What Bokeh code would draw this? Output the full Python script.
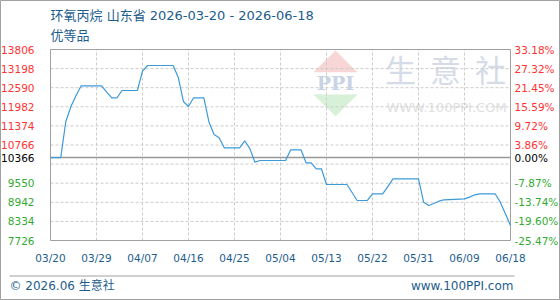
import pandas as pd
from bokeh.plotting import figure
from bokeh.models import ColumnDataSource, Range1d
from bokeh.core.properties import value
from bokeh.embed import file_html
from bokeh.resources import INLINE

# ---------------- data ----------------
title_text = "环氧丙烷 山东省 2026-03-20 - 2026-06-18"
subtitle_text = "优等品"
footer_left = "© 2026.06 生意社"
footer_right = "www.100PPI.com"

dates = ["2026-03-20", "2026-03-22", "2026-03-23", "2026-03-24", "2026-03-25", "2026-03-26",
         "2026-03-30", "2026-03-31", "2026-04-01", "2026-04-02", "2026-04-03", "2026-04-06",
         "2026-04-07", "2026-04-08", "2026-04-13", "2026-04-14", "2026-04-15", "2026-04-16",
         "2026-04-17", "2026-04-19", "2026-04-20", "2026-04-21", "2026-04-22", "2026-04-23",
         "2026-04-26", "2026-04-27", "2026-04-28", "2026-04-29", "2026-04-30", "2026-05-05",
         "2026-05-06", "2026-05-08", "2026-05-09", "2026-05-10", "2026-05-11", "2026-05-12",
         "2026-05-13", "2026-05-17", "2026-05-18", "2026-05-19", "2026-05-21", "2026-05-22",
         "2026-05-24", "2026-05-25", "2026-05-26", "2026-05-31", "2026-06-01", "2026-06-02",
         "2026-06-03", "2026-06-04", "2026-06-05", "2026-06-09", "2026-06-10", "2026-06-11",
         "2026-06-12", "2026-06-14", "2026-06-15", "2026-06-16", "2026-06-17", "2026-06-18"]
prices = [10366, 10366, 11514, 11990, 12342, 12650,
          12650, 12447, 12269, 12269, 12501, 12501,
          13115, 13297, 13297, 12915, 12151, 11992,
          12269, 12269, 11500, 11100, 10995, 10677,
          10677, 10900, 10650, 10219, 10273, 10273,
          10613, 10613, 10200, 10200, 10009, 10009,
          9509, 9509, 9254, 9000, 9000, 9213,
          9213, 9440, 9690, 9690, 8946, 8840,
          8904, 8977, 9022, 9050, 9108, 9181,
          9213, 9213, 9213, 8946, 8576, 8204]

base_price = 10366
x_start = "2026-03-20"
x_end = "2026-06-18"
x_ticks = ["2026-03-20", "2026-03-29", "2026-04-07", "2026-04-16", "2026-04-25", "2026-05-04",
           "2026-05-13", "2026-05-22", "2026-05-31", "2026-06-09", "2026-06-18"]
x_tick_labels = ["03/20", "03/29", "04/07", "04/16", "04/25", "05/04",
                 "05/13", "05/22", "05/31", "06/09", "06/18"]
y_min, y_max = 7726, 13806
left_ticks = [13806, 13198, 12590, 11982, 11374, 10766, 10366, 9550, 8942, 8334, 7726]
left_labels = ["13806", "13198", "12590", "11982", "11374", "10766", "10366",
               "9550", "8942", "8334", "7726"]
right_labels = ["33.18%", "27.32%", "21.45%", "15.59%", "9.72%", "3.86%", "0.00%",
                "-7.87%", "-13.74%", "-19.60%", "-25.47%"]
grid_ticks = [13198, 12590, 11982, 11374, 10766, 10158, 9550, 8942, 8334]

# ---------------- styles ----------------
RED = "#ff3333"
GREEN = "#33aa33"
BLACK = "#000000"
BLUE_TEXT = "#1d5d8e"
LINE = "#3d9ad9"
GRAY = "#a0a0a0"
GRID = "#cccccc"
FONT = "DejaVu Sans, Noto Sans CJK SC"

W, H = 560, 300
FL, FT, FW, FH = 50, 49, 460, 191   # plotting area in pixels


def to_ms(s):
    return (pd.Timestamp(s) - pd.Timestamp("1970-01-01")) / pd.Timedelta(milliseconds=1)


xs = [to_ms(d) for d in dates]
x0, x1 = to_ms(x_start), to_ms(x_end)
xt = [to_ms(t) for t in x_ticks]


def px_x(px):
    return x0 + (px - FL) / FW * (x1 - x0)


def px_y(py):
    return y_max - (py - FT) / FH * (y_max - y_min)


p = figure(width=W, height=H,
           x_range=Range1d(px_x(0), px_x(W)), y_range=Range1d(px_y(H), px_y(0)),
           toolbar_location=None, output_backend="svg", min_border=0,
           x_axis_location=None, y_axis_location=None)
p.grid.visible = False
p.background_fill_color = "white"
p.border_fill_color = "white"
p.outline_line_color = GRAY
p.outline_line_width = 1

# watermark (decoration)
p.patch([px_x(313), px_x(335), px_x(357)], [px_y(71.7), px_y(50), px_y(71.7)],
        fill_color="#f8d6d6", line_color=None)
p.patch([px_x(313), px_x(357), px_x(335)], [px_y(94), px_y(94), px_y(115.7)],
        fill_color="#d8efd8", line_color=None)
p.text(x=[px_x(335)], y=[px_y(82)], text=["PPI"], text_align="center", text_baseline="middle",
       text_font=value("DejaVu Serif"), text_font_style="bold",
       text_font_size=value("19px"), text_color="#c9d3e8")
p.text(x=[px_x(400), px_x(445), px_x(490)], y=[px_y(68)] * 3, text=["生", "意", "社"],
       text_align="center", text_baseline="middle", text_font=value("Noto Sans CJK SC"),
       text_font_size=value("31px"), text_color="#d6dce7")
p.text(x=[px_x(446)], y=[px_y(106.5)], text=["WWW.100PPI.COM"], text_align="center",
       text_baseline="middle", text_font=value("DejaVu Sans"),
       text_font_size=value("13px"), text_color="#e0e0e0")

# grid lines
p.segment(x0=xt, y0=[y_min] * len(xt), x1=xt, y1=[y_max] * len(xt),
          line_color=GRID, line_dash="3 2", line_width=1)
p.segment(x0=[x0] * len(grid_ticks), y0=grid_ticks, x1=[x1] * len(grid_ticks), y1=grid_ticks,
          line_color=GRID, line_dash="3 2", line_width=1)

# frame
p.quad(left=[x0], right=[x1], bottom=[y_min], top=[y_max], fill_color=None,
       line_color=GRAY, line_width=1)

# baseline
p.segment(x0=[x0], y0=[base_price], x1=[x1], y1=[base_price], line_color="#999999",
          line_width=1.5)

# price line
src = ColumnDataSource(dict(x=xs, y=prices))
p.line("x", "y", source=src, line_color=LINE, line_width=1.2)

# side labels
colors = [RED if v > base_price else (BLACK if v == base_price else GREEN) for v in left_ticks]
n = len(left_ticks)
lsrc = ColumnDataSource(dict(xl=[px_x(34)] * n, xr=[px_x(514)] * n, y=left_ticks,
                             lt=left_labels, rt=right_labels, c=colors))
p.text(x="xl", y="y", text="lt", source=lsrc, text_align="right", text_baseline="middle",
       text_color="c", text_font=value(FONT), text_font_size=value("10.5px"))
p.text(x="xr", y="y", text="rt", source=lsrc, text_align="left", text_baseline="middle",
       text_color="c", text_font=value(FONT), text_font_size=value("10.5px"))

# x tick labels
p.text(x=xt, y=[px_y(257)] * len(xt), text=x_tick_labels, text_align="center",
       text_baseline="middle", text_color=BLUE_TEXT, text_font=value(FONT),
       text_font_size=value("10.5px"))

# titles
p.text(x=[px_x(50)], y=[px_y(15)], text=[title_text], text_baseline="middle",
       text_font=value(FONT), text_font_size=value("13px"), text_color=BLUE_TEXT)
p.text(x=[px_x(50)], y=[px_y(34.5)], text=[subtitle_text], text_baseline="middle",
       text_font=value(FONT), text_font_size=value("13px"), text_color=BLUE_TEXT)

# footer
p.segment(x0=[px_x(9)], y0=[px_y(275.5)], x1=[px_x(514)], y1=[px_y(275.5)],
          line_color=GRAY, line_width=1)
p.text(x=[px_x(9)], y=[px_y(285.5)], text=[footer_left], text_align="left",
       text_baseline="middle", text_font=value(FONT), text_font_size=value("12px"),
       text_color=BLUE_TEXT)
p.text(x=[px_x(513)], y=[px_y(285.5)], text=[footer_right], text_align="right",
       text_baseline="middle", text_font=value(FONT), text_font_size=value("12px"),
       text_color=BLUE_TEXT)

open("out.html", "w").write(file_html(p, INLINE))
